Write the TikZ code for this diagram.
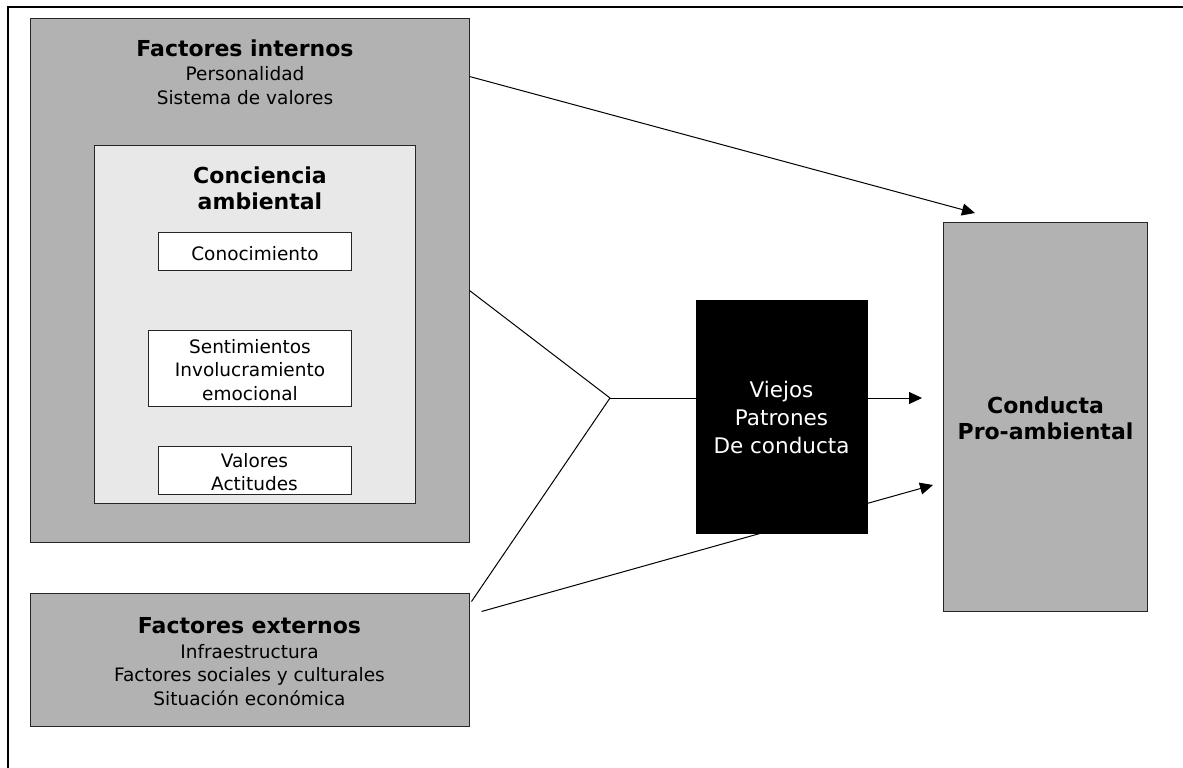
\documentclass[tikz,border=0pt]{standalone}
\usepackage{fontspec}
\setmainfont{DejaVu Sans}
\usetikzlibrary{arrows.meta,calc,backgrounds}
\definecolor{boxgray}{RGB}{178,178,178}
\definecolor{innergray}{RGB}{232,232,232}
\begin{document}
\begin{tikzpicture}[x=1pt,y=-1pt,
  box/.style={draw=black!85,line width=1pt,inner sep=0pt,minimum width=#1},
  normaltxt/.style={font=\fontsize{18.5}{23.5}\selectfont,anchor=base,inner sep=0pt},
  boldtxt/.style={font=\fontsize{22}{26}\selectfont\bfseries,anchor=base,inner sep=0pt},
  bigtxt/.style={font=\fontsize{21.5}{28}\selectfont,anchor=base,inner sep=0pt,text=white},
  conn/.style={line width=1pt},
  arr/.style={line width=1pt,-{Triangle[length=13pt,width=12pt]}}]
\useasboundingbox (0,0) rectangle (1183,768);
% outer frame (top and left only)
\draw[line width=2pt] (8,768) -- (8,7) -- (1183,7);

% boxes
\node[box=439pt,fill=boxgray,minimum height=523pt] (fi) at (249.5,280.5) {};
\node[box=321pt,fill=innergray,minimum height=358pt] (ca) at (254.5,324) {};
\node[box=193pt,fill=white,minimum height=38pt] (co) at (254.5,251) {};
\node[box=203pt,fill=white,minimum height=76pt] (se) at (249.5,368) {};
\node[box=193pt,fill=white,minimum height=48pt] (va) at (254.5,470) {};
\node[box=439pt,fill=boxgray,minimum height=133pt] (fe) at (249.5,659.5) {};
\node[box=171pt,fill=black,draw=black,minimum height=233pt] (bb) at (781.5,416.5) {};
\node[box=204pt,fill=boxgray,minimum height=389pt] (cp) at (1045,416.5) {};

% texts
\node[boldtxt] (fit) at (245,57) {Factores internos};
\node[normaltxt] (fi1) at (245,81) {Personalidad};
\node[normaltxt] (fi2) at (245,104.5) {Sistema de valores};
\node[boldtxt] (cat1) at (260,183) {Conciencia};
\node[boldtxt] (cat2) at (260,209) {ambiental};
\node[normaltxt] (cot) at (255,260) {Conocimiento};
\node[normaltxt] (se1) at (250,353) {Sentimientos};
\node[normaltxt] (se2) at (250,376.5) {Involucramiento};
\node[normaltxt] (se3) at (250,400) {emocional};
\node[normaltxt] (va1) at (254.5,467) {Valores};
\node[normaltxt] (va2) at (254.5,490) {Actitudes};
\node[boldtxt] (fet) at (249.5,633) {Factores externos};
\node[normaltxt] (fe1) at (249.5,658) {Infraestructura};
\node[normaltxt] (fe2) at (249.5,681.5) {Factores sociales y culturales};
\node[normaltxt] (fe3) at (249.5,705) {Situación económica};
\node[bigtxt] (bb1) at (781.5,397) {Viejos};
\node[bigtxt] (bb2) at (781.5,425) {Patrones};
\node[bigtxt] (bb3) at (781.5,453) {De conducta};
\node[boldtxt] (cp1) at (1045.5,413) {Conducta};
\node[boldtxt] (cp2) at (1045.5,439) {Pro-ambiental};

% connectors
\coordinate (j) at (610,398);
\coordinate (t1) at (975,213);
\coordinate (t2) at (922,398);
\coordinate (t3) at (933,485);
\draw[arr] ($(fi.north east)+(0,58)$) -- (t1);
\draw[conn] ($(fi.north east)+(0,272)$) -- (j);
\draw[conn] ($(fe.north east)+(2,9)$) -- (j);
\draw[conn] (j) -- (bb.west |- j);
\draw[arr] (bb.east |- j) -- (t2);
\begin{scope}[on background layer]
\draw[arr] ($(fe.north east)+(12,19)$) -- (t3);
\end{scope}
\end{tikzpicture}
\end{document}
